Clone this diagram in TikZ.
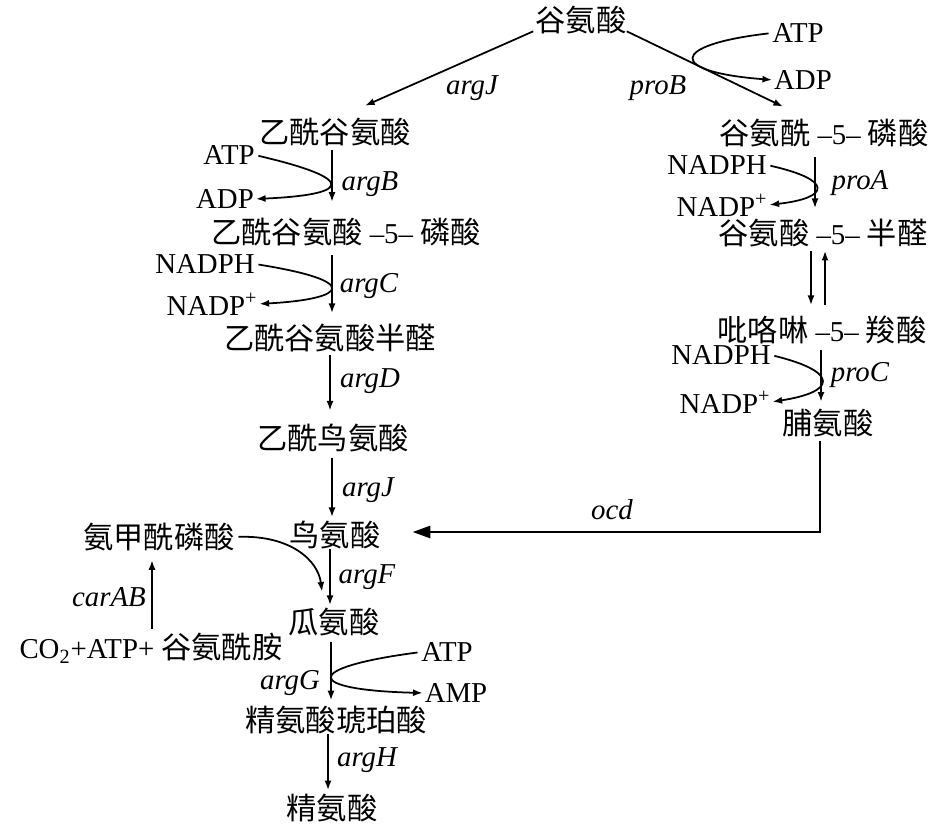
\documentclass[tikz,border=0pt]{standalone}
\usepackage{fontspec}
\setmainfont{Liberation Serif}
\newfontfamily\cjk[Scale=1.05]{Noto Sans CJK SC}
\usetikzlibrary{arrows.meta}
\usetikzlibrary{calc}

\newcommand{\zh}[1]{{\cjk #1}}

\begin{document}
\begin{tikzpicture}[x=0.02cm,y=-0.02cm,
    every node/.style={inner sep=0pt,font=\fontsize{16.4}{18}\selectfont},
    gene/.style={font=\fontsize{16.4}{18}\selectfont\itshape},
    arr/.style={line width=1pt,-{Latex[length=5.5pt,width=4pt]}},
    bigarr/.style={line width=1pt,-{Triangle[length=10pt,width=7pt]}}]

      \path[use as bounding box,fill=white] (0,0) rectangle (945,828);

      % glutamate
      \node (glu) at (581,20) {\zh{谷氨酸}};

      % arginine branch
      \node (acglu) at (335,132) {\zh{乙酰谷氨酸}};
      \node (acglup) at (346,232) {\zh{乙酰谷氨酸} –5– \zh{磷酸}};
      \node (acglusa) at (330,338) {\zh{乙酰谷氨酸半醛}};
      \node (acorn) at (333,438) {\zh{乙酰鸟氨酸}};
      \node (orn) at (335,535) {\zh{鸟氨酸}};
      \node (cit) at (334,622) {\zh{瓜氨酸}};
      \node (argsuc) at (336,720) {\zh{精氨酸琥珀酸}};
      \node (arg) at (332,808) {\zh{精氨酸}};
      \node (cp) at (159,537) {\zh{氨甲酰磷酸}};
      \node (co2) at (151,648) {CO\textsubscript{2}+ATP+ \zh{谷氨酰胺}};

      % proline branch
      \node (glup) at (824,133) {\zh{谷氨酰} –5– \zh{磷酸}};
      \node (glusa) at (823,233) {\zh{谷氨酸} –5– \zh{半醛}};
      \node (pfc) at (822,330) {\zh{吡咯啉} –5– \zh{羧酸}};
      \node (pro) at (828,423) {\zh{脯氨酸}};

      % cofactors
      \node (atpP) at (798,33) {ATP};
      \node (adpP) at (803,80) {ADP};
      \node (atpB) at (229,155) {ATP};
      \node (adpB) at (225,199) {ADP};
      \node (nadphC) at (205,264) {NADPH};
      \node (nadpC) at (212,304) {NADP\textsuperscript{+}};
      \node (nadphA) at (717,165) {NADPH};
      \node (nadpA) at (722,205) {NADP\textsuperscript{+}};
      \node (nadphR) at (721,355) {NADPH};
      \node (nadpR) at (725,402) {NADP\textsuperscript{+}};
      \node (atpG) at (447,652) {ATP};
      \node (ampG) at (456,693) {AMP};

      % genes
      \node[gene] (gJa) at (472,88) {argJ};
      \node[gene] (gproB) at (658,88) {proB};
      \node[gene] (gB) at (370,184) {argB};
      \node[gene] (gC) at (369,286) {argC};
      \node[gene] (gD) at (370,381) {argD};
      \node[gene] (gJb) at (368,490) {argJ};
      \node[gene] (gF) at (367,577) {argF};
      \node[gene] (gG) at (290,683) {argG};
      \node[gene] (gH) at (367,760) {argH};
      \node[gene] (gcar) at (109,597) {carAB};
      \node[gene] (gA) at (860,183) {proA};
      \node[gene] (gPC) at (860,375) {proC};
      \node[gene] (gocd) at (612,510) {ocd};

      % first steps
      \draw[arr] ($(glu.south west)+(-2,-3)$) -- ($(acglu.north)+(30,-12)$);
      \draw[arr] ($(glu.south east)+(0,-3)$) -- ($(glup.north)+(-41,-12)$);

      % straight steps
      \foreach \a/\b/\x/\s/\e in {acglu/acglup/332/2pt/9pt,
                                  acglup/acglusa/332/5pt/6pt,
                                  acglusa/acorn/330/1.5pt/7.5pt,
                                  acorn/orn/332/3pt/2pt,
                                  orn/cit/330/0pt/1.5pt,
                                  cit/argsuc/331/3pt/3pt,
                                  argsuc/arg/328/0pt/2pt,
                                  glup/glusa/815/5.5pt/6pt,
                                  glusa/pfc/811/2pt/6pt,
                                  pfc/pro/821/3pt/4pt}
               {
                 \draw[arr,shorten <=\s,shorten >=\e]
                 (\a.south -| \x,0) -- (\b.north -| \x,0);
               }

      % back step
      \draw[arr,shorten <=6pt,shorten >=2pt] (pfc.north -| 825,0) -- (glusa.south -| 825,0);

      % carbamoyl phosphate
      \draw[arr,shorten <=2pt,shorten >=5pt] (co2.north -| 152,0) -- (cp.south -| 152,0);
      \draw[arr,shorten <=2pt] (cp.east) .. controls (290,535) and (318,560) .. ($(cit.north)+(-12,-16)$);

      % proline to ornithine
      \draw[bigarr,shorten <=2pt] (pro.south -| 820,0) |- ($(orn.east)+(32,-3)$);

      % cofactor curves
      \draw[arr,shorten <=2pt,shorten >=1pt] (atpP.west) .. controls (668,45) and (668,72) .. (adpP.west);
      \draw[arr,shorten <=2pt,shorten >=1pt] (atpB.east) .. controls (362,180) and (347,195) .. (adpB.east);
      \draw[arr,shorten <=2pt,shorten >=1pt] (nadphC.east) .. controls (362,281) and (348,299) .. (nadpC.east);
      \draw[arr,shorten <=2pt,shorten >=1pt] (nadphA.east) .. controls (834,180) and (830,198) .. (nadpA.east);
      \draw[arr,shorten <=2pt,shorten >=1pt] (nadphR.east) .. controls (840,372) and (836,392) .. (nadpR.east);
      \draw[arr,shorten <=2pt,shorten >=1pt] (atpG.west) .. controls (300,668) and (305,690) .. (ampG.west);
\end{tikzpicture}
\end{document}
